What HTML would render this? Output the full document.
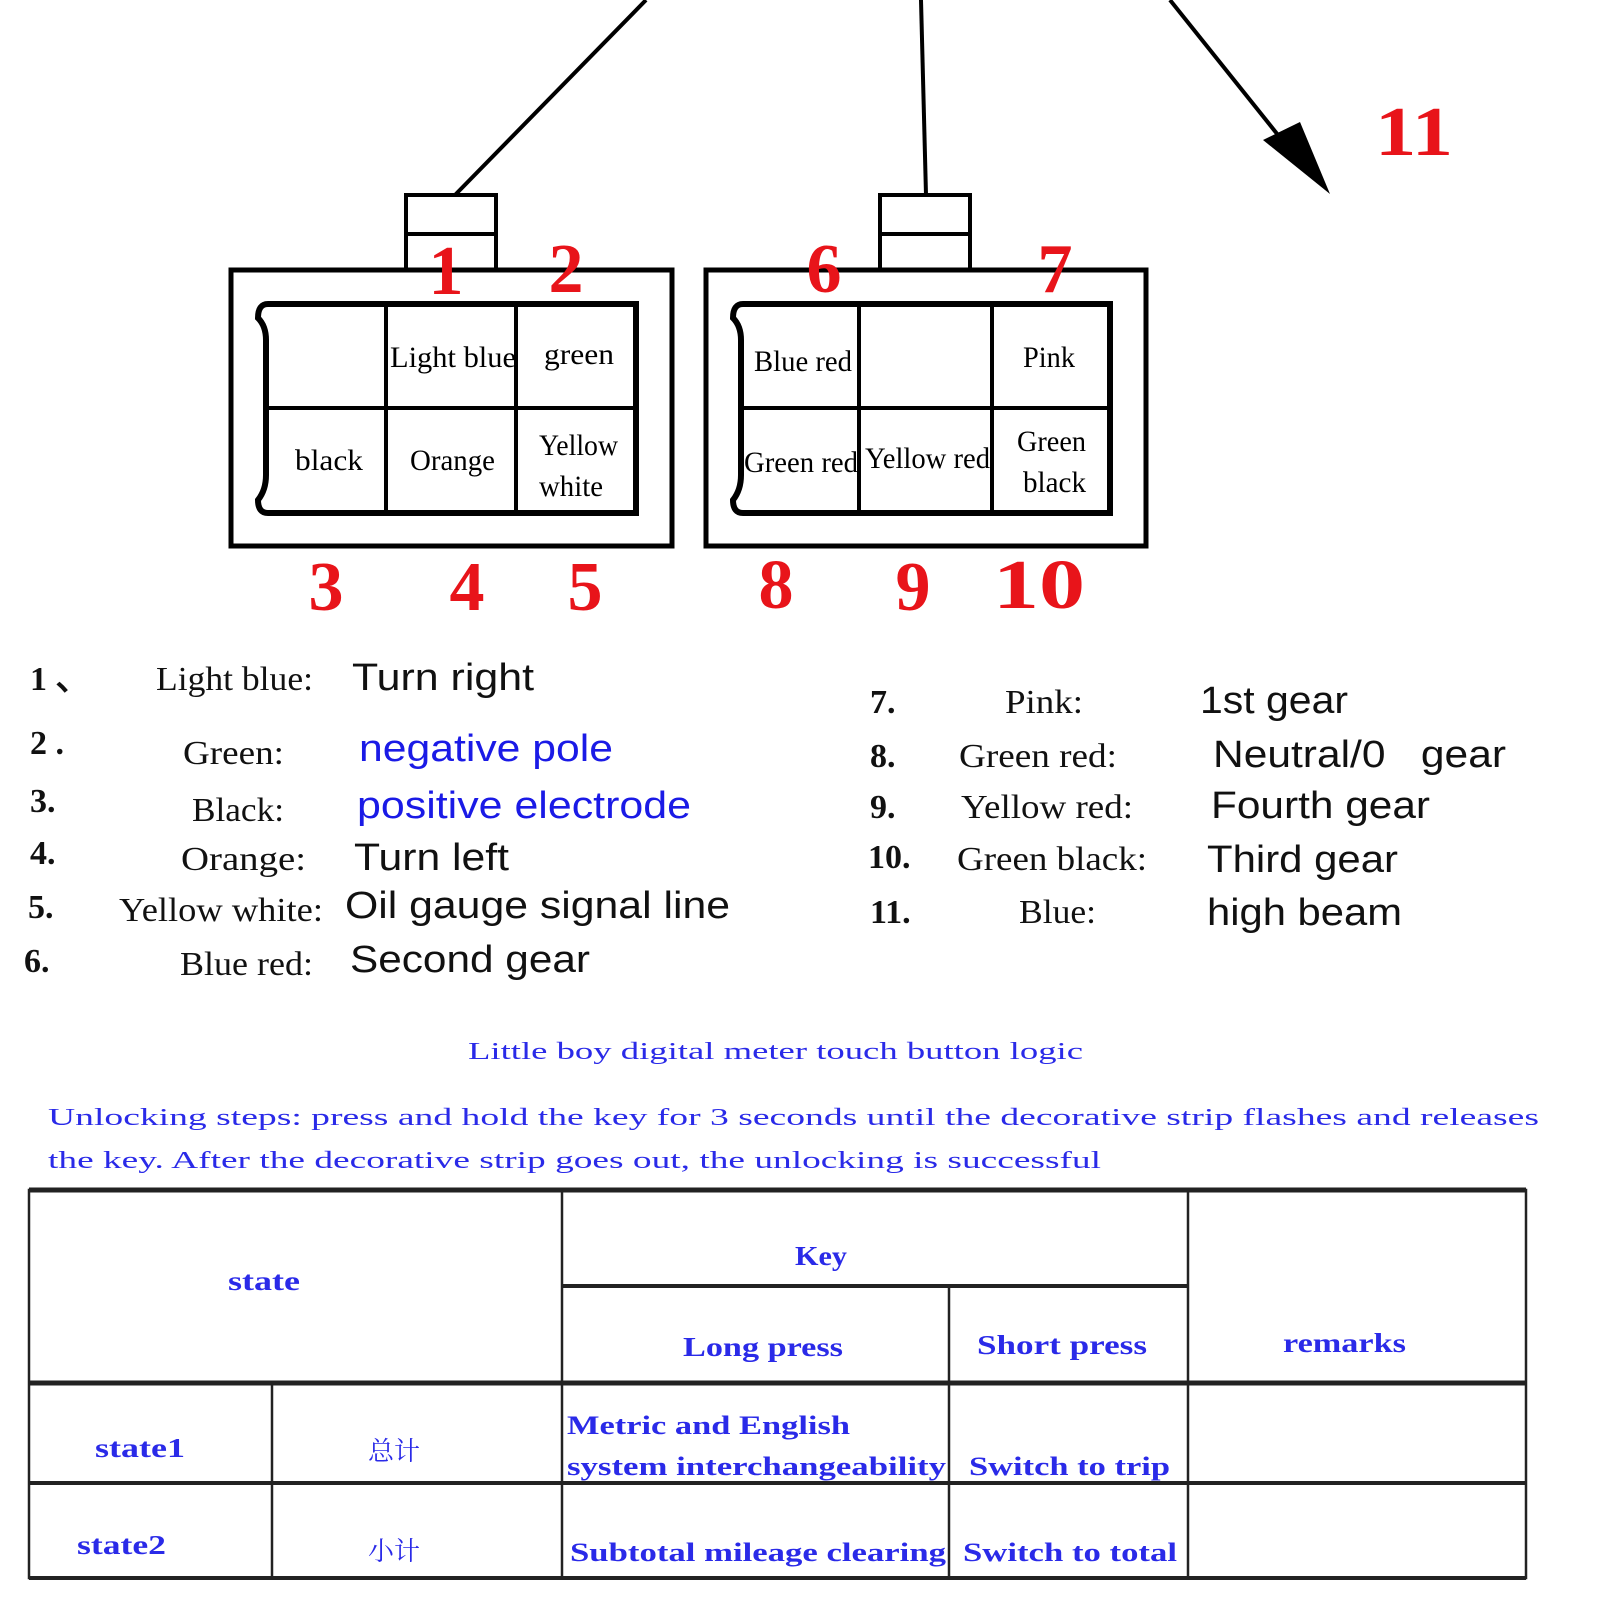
<!DOCTYPE html>
<html><head><meta charset="utf-8"><style>
html,body{margin:0;padding:0;background:#fff;}
svg{display:block;}
.s{font-family:"Liberation Serif",serif;}
.a{font-family:"Liberation Sans",sans-serif;}
.r{font-family:"Liberation Serif",serif;font-weight:bold;fill:#e8141a;font-size:70px;text-anchor:middle;}
.b{fill:#2a2ae8;font-family:"Liberation Serif","Noto Serif CJK SC",serif;}
</style></head><body>
<svg width="1600" height="1600" viewBox="0 0 1600 1600" xmlns="http://www.w3.org/2000/svg">
<g stroke="#000" fill="none">
<line x1="455" y1="195" x2="646" y2="0" stroke-width="4"/>
<line x1="926" y1="195" x2="921" y2="0" stroke-width="4"/>
<line x1="1170" y1="0" x2="1290" y2="150" stroke-width="4"/>
</g>
<polygon points="1330,194 1263,140 1300,122" fill="#000"/>
<text x="1414" y="155" class="r" font-size="72" textLength="78" lengthAdjust="spacingAndGlyphs">11</text>
<g stroke="#000" fill="none" stroke-width="4">
<rect x="406" y="195" width="90" height="75"/><line x1="406" y1="234" x2="496" y2="234"/>
<rect x="880" y="195" width="90" height="75"/><line x1="880" y1="234" x2="970" y2="234"/>
<rect x="231" y="270" width="441" height="276" stroke-width="5"/>
<rect x="706" y="270" width="440" height="276" stroke-width="5"/>
<path d="M268,304 H636 V513 H268 Q258,513 258,500 Q266,490 266,475 V340 Q266,326 258,318 Q258,304 268,304 Z" stroke-width="6"/>
<line x1="386" y1="304" x2="386" y2="513"/><line x1="516" y1="304" x2="516" y2="513"/>
<line x1="266" y1="408" x2="636" y2="408"/>
<path d="M743,304 H1110 V513 H743 Q733,513 733,500 Q741,490 741,475 V340 Q741,326 733,318 Q733,304 743,304 Z" stroke-width="6"/>
<line x1="859" y1="304" x2="859" y2="513"/><line x1="992" y1="304" x2="992" y2="513"/>
<line x1="741" y1="408" x2="1110" y2="408"/>
</g>
<g class="s" font-size="30" fill="#000">
<text x="390" y="367" textLength="126" lengthAdjust="spacingAndGlyphs">Light blue</text>
<text x="544" y="364" textLength="70" lengthAdjust="spacingAndGlyphs">green</text>
<text x="295" y="470" textLength="68" lengthAdjust="spacingAndGlyphs">black</text>
<text x="410" y="470" textLength="85" lengthAdjust="spacingAndGlyphs">Orange</text>
<text x="539" y="455" textLength="79" lengthAdjust="spacingAndGlyphs">Yellow</text>
<text x="539" y="496" textLength="64" lengthAdjust="spacingAndGlyphs">white</text>
<text x="754" y="371" textLength="98" lengthAdjust="spacingAndGlyphs">Blue red</text>
<text x="1023" y="367" textLength="52" lengthAdjust="spacingAndGlyphs">Pink</text>
<text x="744" y="472" textLength="114" lengthAdjust="spacingAndGlyphs">Green red</text>
<text x="865" y="468" textLength="125" lengthAdjust="spacingAndGlyphs">Yellow red</text>
<text x="1017" y="451" textLength="69" lengthAdjust="spacingAndGlyphs">Green</text>
<text x="1023" y="492" textLength="63" lengthAdjust="spacingAndGlyphs">black</text>
</g>
<text x="446" y="294" class="r">1</text>
<text x="566" y="292" class="r">2</text>
<text x="824" y="292" class="r">6</text>
<text x="1055" y="292" class="r">7</text>
<text x="326" y="610" class="r">3</text>
<text x="467" y="610" class="r">4</text>
<text x="585" y="610" class="r">5</text>
<text x="776" y="608" class="r">8</text>
<text x="913" y="610" class="r">9</text>
<text x="1039" y="608" class="r" textLength="92" lengthAdjust="spacingAndGlyphs">10</text>
<g class="s" font-weight="bold" font-size="34" fill="#111">
<text x="30" y="690">1 、</text>
<text x="30" y="754">2 .</text>
<text x="30" y="812">3.</text>
<text x="30" y="864">4.</text>
<text x="28" y="918">5.</text>
<text x="24" y="972">6.</text>
<text x="870" y="713">7.</text>
<text x="870" y="767">8.</text>
<text x="870" y="818">9.</text>
<text x="868" y="868">10.</text>
<text x="870" y="923">11.</text>
</g>
<g class="s" font-size="34" fill="#111">
<text x="156" y="690" textLength="157" lengthAdjust="spacingAndGlyphs">Light blue:</text>
<text x="183" y="764" textLength="101" lengthAdjust="spacingAndGlyphs">Green:</text>
<text x="192" y="821" textLength="92" lengthAdjust="spacingAndGlyphs">Black:</text>
<text x="181" y="870" textLength="125" lengthAdjust="spacingAndGlyphs">Orange:</text>
<text x="119" y="921" textLength="204" lengthAdjust="spacingAndGlyphs">Yellow white:</text>
<text x="180" y="975" textLength="133" lengthAdjust="spacingAndGlyphs">Blue red:</text>
<text x="1005" y="713" textLength="78" lengthAdjust="spacingAndGlyphs">Pink:</text>
<text x="959" y="767" textLength="158" lengthAdjust="spacingAndGlyphs">Green red:</text>
<text x="961" y="818" textLength="172" lengthAdjust="spacingAndGlyphs">Yellow red:</text>
<text x="957" y="870" textLength="190" lengthAdjust="spacingAndGlyphs">Green black:</text>
<text x="1019" y="923" textLength="77" lengthAdjust="spacingAndGlyphs">Blue:</text>
</g>
<g class="a" font-size="38" fill="#111">
<text x="352" y="690" textLength="182" lengthAdjust="spacingAndGlyphs">Turn right</text>
<text x="359" y="761" fill="#1a1ae6" textLength="254" lengthAdjust="spacingAndGlyphs">negative pole</text>
<text x="357" y="818" fill="#1a1ae6" textLength="334" lengthAdjust="spacingAndGlyphs">positive electrode</text>
<text x="354" y="870" textLength="155" lengthAdjust="spacingAndGlyphs">Turn left</text>
<text x="345" y="918" textLength="385" lengthAdjust="spacingAndGlyphs">Oil gauge signal line</text>
<text x="350" y="972" textLength="240" lengthAdjust="spacingAndGlyphs">Second gear</text>
<text x="1200" y="713" textLength="148" lengthAdjust="spacingAndGlyphs">1st gear</text>
<text x="1213" y="767" textLength="293" lengthAdjust="spacingAndGlyphs" xml:space="preserve">Neutral/0   gear</text>
<text x="1211" y="818" textLength="219" lengthAdjust="spacingAndGlyphs">Fourth gear</text>
<text x="1207" y="872" textLength="191" lengthAdjust="spacingAndGlyphs">Third gear</text>
<text x="1207" y="925" textLength="195" lengthAdjust="spacingAndGlyphs">high beam</text>
</g>
<g class="b" font-size="24">
<text x="468" y="1059" textLength="615" lengthAdjust="spacingAndGlyphs">Little boy digital meter touch button logic</text>
<text x="48" y="1125" textLength="1491" lengthAdjust="spacingAndGlyphs">Unlocking steps: press and hold the key for 3 seconds until the decorative strip flashes and releases</text>
<text x="48" y="1168" textLength="1053" lengthAdjust="spacingAndGlyphs">the key. After the decorative strip goes out, the unlocking is successful</text>
</g>
<g stroke="#222" fill="none">
<rect x="29" y="1190" width="1497" height="388" stroke-width="2.5"/>
<line x1="29" y1="1190" x2="1526" y2="1190" stroke-width="5"/>
<line x1="29" y1="1383" x2="1526" y2="1383" stroke-width="5"/>
<line x1="29" y1="1483" x2="1526" y2="1483" stroke-width="4"/>
<line x1="29" y1="1578" x2="1526" y2="1578" stroke-width="4"/>
<line x1="562" y1="1286" x2="1188" y2="1286" stroke-width="4"/>
<line x1="562" y1="1190" x2="562" y2="1578" stroke-width="2.5"/>
<line x1="949" y1="1286" x2="949" y2="1578" stroke-width="2.5"/>
<line x1="1188" y1="1190" x2="1188" y2="1578" stroke-width="2.5"/>
<line x1="272" y1="1383" x2="272" y2="1578" stroke-width="2.5"/>
</g>
<g class="b" font-size="27" font-weight="bold">
<text x="228" y="1290" textLength="72" lengthAdjust="spacingAndGlyphs">state</text>
<text x="795" y="1265" textLength="52" lengthAdjust="spacingAndGlyphs">Key</text>
<text x="683" y="1356" textLength="160" lengthAdjust="spacingAndGlyphs">Long press</text>
<text x="977" y="1354" textLength="170" lengthAdjust="spacingAndGlyphs">Short press</text>
<text x="1283" y="1352" textLength="123" lengthAdjust="spacingAndGlyphs">remarks</text>
<text x="95" y="1457" textLength="90" lengthAdjust="spacingAndGlyphs">state1</text>
<text x="77" y="1554" textLength="89" lengthAdjust="spacingAndGlyphs">state2</text>
</g>
<g class="b" font-size="26" text-anchor="middle">
<text x="394" y="1460">总计</text>
<text x="394" y="1560">小计</text>
</g>
<g class="b" font-size="26" font-weight="bold">
<text x="567" y="1434" textLength="283" lengthAdjust="spacingAndGlyphs">Metric and English</text>
<text x="567" y="1475" textLength="379" lengthAdjust="spacingAndGlyphs">system interchangeability</text>
<text x="969" y="1475" textLength="201" lengthAdjust="spacingAndGlyphs">Switch to trip</text>
<text x="570" y="1561" textLength="376" lengthAdjust="spacingAndGlyphs">Subtotal mileage clearing</text>
<text x="963" y="1561" textLength="214" lengthAdjust="spacingAndGlyphs">Switch to total</text>
</g>
</svg>
</body></html>
